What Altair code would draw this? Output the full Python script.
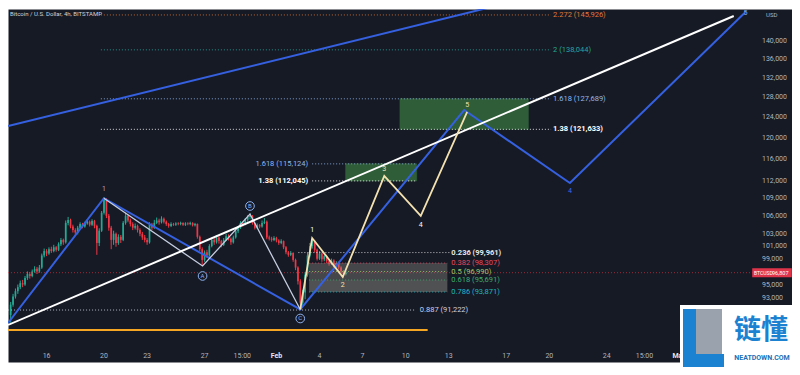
import altair as alt
import pandas as pd

# ---------------- data ----------------
# x is "day of year" (Jan 16 = 16, Feb 1 = 32, Mar 1 = 60); 4h candles, prices in thousand USD
first_day = 13.5
bar_hours = 4
first_open = 90.5
closes = [92.0, 93.2, 94.0, 94.6, 95.2, 95.0, 96.0, 96.6, 96.3, 97.0,
          97.4, 97.0, 97.6, 99.5, 100.2, 99.8, 100.5, 100.2, 100.8, 100.4,
          101.3, 102.0, 101.6, 104.8, 105.3, 104.2, 103.6, 103.2, 104.0, 104.6,
          104.2, 104.7, 105.0, 104.5, 105.1, 104.3, 101.5, 103.5, 106.5, 108.8,
          106.0, 104.0, 102.0, 103.0, 101.5, 102.5, 102.0, 104.8, 106.0, 105.2,
          104.6, 104.0, 104.3, 103.6, 103.0, 102.4, 102.0, 101.6, 104.5, 104.0,
          104.8, 105.2, 104.9, 105.5, 105.0, 104.6, 104.3, 104.6, 104.5, 104.7,
          104.6, 104.8, 104.5, 104.7, 104.6, 104.8, 104.4, 104.6, 102.5, 100.5,
          98.8, 100.0, 99.5, 101.0, 102.0, 101.6, 102.4, 101.8, 101.2, 102.0,
          102.6, 102.2, 101.6, 102.4, 103.4, 104.0, 104.8, 104.6, 105.3, 105.8,
          106.0, 104.8, 104.0, 104.4, 104.2, 104.8, 105.0, 102.4, 102.2, 102.0,
          102.3, 101.9, 101.5, 101.8, 100.8, 100.0, 99.6, 99.9, 98.8, 97.6,
          95.5, 92.3, 93.8, 96.5, 99.5, 101.0, 101.8, 100.4, 99.0, 99.8,
          98.9, 99.4, 98.6, 98.2, 98.7, 97.8, 98.3, 97.6, 97.0, 96.6,
          96.807]
highs = [92.4, 93.6, 94.4, 95.0, 95.6, 95.7, 96.3, 97.0, 96.9, 97.3,
         97.8, 97.7, 98.0, 99.8, 100.6, 100.5, 100.8, 100.9, 101.2, 101.0,
         101.6, 102.3, 102.2, 105.2, 105.8, 105.5, 104.5, 103.9, 104.3, 104.9,
         104.8, 105.0, 105.4, 105.2, 105.4, 105.3, 104.5, 103.9, 106.8, 109.2,
         109.0, 106.3, 104.3, 103.5, 103.2, 102.9, 102.8, 105.1, 106.5, 106.2,
         105.5, 104.9, 104.7, 104.5, 103.9, 103.3, 102.8, 102.3, 104.9, 104.8,
         105.3, 105.7, 105.5, 105.9, 105.7, 105.2, 104.8, 104.9, 104.8, 104.9,
         104.9, 105.0, 104.9, 104.9, 104.9, 105.0, 104.9, 104.8, 104.7, 102.7,
         100.8, 100.3, 100.4, 101.3, 102.4, 102.3, 102.8, 102.6, 102.0, 102.3,
         103.0, 102.9, 102.4, 102.7, 103.7, 104.3, 105.1, 105.0, 105.6, 106.1,
         106.4, 106.1, 105.0, 104.7, 104.6, 105.2, 105.6, 105.2, 102.7, 102.5,
         102.6, 102.5, 102.1, 102.1, 101.9, 101.0, 100.2, 100.2, 100.0, 99.0,
         97.8, 95.8, 94.2, 96.9, 99.9, 101.5, 102.3, 102.0, 100.6, 100.2,
         100.0, 99.7, 99.6, 98.9, 99.0, 98.9, 98.6, 98.5, 97.8, 97.2,
         97.1]
lows = [89.4, 91.7, 92.9, 93.6, 94.3, 94.6, 94.8, 95.7, 95.9, 96.1,
        96.8, 96.6, 96.8, 97.4, 99.2, 99.4, 99.6, 99.9, 100.0, 100.1,
        100.2, 101.0, 101.2, 101.4, 104.4, 103.9, 103.2, 102.8, 102.9, 103.8,
        103.9, 104.0, 104.5, 104.2, 104.3, 103.9, 99.6, 101.0, 103.3, 106.2,
        105.6, 103.5, 100.5, 101.2, 100.9, 101.2, 101.5, 101.8, 104.5, 104.9,
        104.2, 103.6, 103.7, 103.2, 102.6, 102.0, 101.6, 101.2, 101.4, 103.6,
        103.8, 104.6, 104.5, 104.7, 104.7, 104.3, 104.0, 104.1, 104.3, 104.3,
        104.4, 104.4, 104.3, 104.3, 104.4, 104.4, 104.2, 104.2, 102.2, 100.2,
        97.9, 98.5, 99.1, 99.3, 100.8, 101.2, 101.4, 101.4, 100.8, 101.0,
        101.8, 101.9, 101.2, 101.4, 102.2, 103.1, 103.8, 104.2, 104.4, 105.0,
        105.4, 104.5, 103.7, 103.8, 103.9, 104.0, 104.6, 102.1, 101.9, 101.7,
        101.8, 101.6, 101.2, 101.3, 100.5, 99.7, 99.3, 99.4, 98.5, 97.2,
        95.0, 91.3, 91.9, 92.8, 96.2, 99.2, 100.6, 100.0, 98.7, 98.8,
        98.5, 98.6, 98.3, 97.9, 98.0, 97.5, 97.6, 97.3, 96.7, 96.2,
        96.4]
last_price = 96807

# axes
x_domain = [13.663, 67.546]
y_domain = [83976, 147319]
x_tick_values = [16, 20, 23, 27, 29.625, 32, 35, 38, 41, 44, 48, 51, 55, 57.625, 60]
x_tick_labels = ["16", "20", "23", "27", "15:00", "Feb", "4", "7", "10", "13", "17", "20", "24", "15:00", "Mar"]
x_tick_bold = [False, False, False, False, False, True, False, False, False, False, False, False, False, False, True]
y_tick_values = [93000, 95000, 99000, 101000, 103000, 106000, 109000, 112000,
                 116000, 120000, 124000, 128000, 132000, 136000, 140000]

# drawings (day, price)
white_trend_day = [13.32, 63.84]
white_trend_price = [89080, 145690]
blue_upper_day = [13.32, 47.82]
blue_upper_price = [122280, 148500]
blue_path_day = [13.32, 19.99, 33.66, 45.07, 52.43, 64.66]
blue_path_price = [89360, 109000, 91300, 125430, 111670, 146620]
abc_day = [19.99, 26.86, 30.16, 33.66]
abc_price = [109000, 97850, 106290, 91300]
wave_day = [33.66, 34.49, 36.62, 39.51, 42.05, 45.28]
wave_price = [91300, 102300, 96140, 112930, 105960, 125040]
support_price = 88380
support_days = [13.32, 42.53]

# fibonacci levels
upper_fib_labels = ["2.272 (145,926)", "2 (138,044)", "1.618 (127,689)", "1.38 (121,633)"]
upper_fib_prices = [145926, 138044, 127689, 121633]
upper_fib_colors = ["#e0783a", "#26a69a", "#8fb8f0", "#ffffff"]
upper_fib_bold = [False, False, False, True]
upper_fib_days = [19.78, 51.12]
upper_box_days = [40.60, 49.54]

mid_fib_labels = ["1.618 (115,124)", "1.38 (112,045)"]
mid_fib_prices = [115124, 112045]
mid_fib_colors = ["#8fb8f0", "#ffffff"]
mid_fib_bold = [False, True]
mid_fib_days = [34.49, 41.77]
mid_box_days = [36.82, 41.77]

low_fib_labels = ["0.236 (99,961)", "0.382 (98,307)", "0.5 (96,990)", "0.618 (95,691)", "0.786 (93,871)", "0.887 (91,222)"]
low_fib_prices = [99961, 98307, 96990, 95691, 93871, 91222]
low_fib_colors = ["#e6e6e6", "#e8485f", "#a6c66b", "#3fae72", "#1fb6c1", "#cfcfe0"]
low_fib_bold = [True, False, False, False, False, False]
low_fib_start = [33.53, 34.28, 34.28, 34.28, 34.28, 13.32]
low_fib_end = [44.04, 43.90, 43.90, 43.90, 43.90, 41.70]
low_fib_label_day = [44.18, 44.18, 44.18, 44.18, 44.18, 41.98]
low_box_days = [34.28, 43.90]

# wave labels: text, day, price, dy, color
wave_labels = [("1", 19.99, 109000, -9, "#b39ddb"),
               ("1", 34.49, 102300, -8, "#ffffff"),
               ("2", 36.62, 96140, 8, "#f3e1b0"),
               ("3", 39.51, 112930, -7, "#f3e1b0"),
               ("4", 42.05, 105960, 9, "#ffffff"),
               ("5", 45.28, 125040, -7, "#f3e1b0"),
               ("4", 52.43, 111670, 8, "#3f6ae6"),
               ("5", 64.66, 146620, 1, "#8fb3f0")]
circle_labels = [("A", 26.86, 97850, 10), ("B", 30.16, 106290, -8), ("C", 33.66, 91300, 9)]

# ---------------- chart ----------------
W, H = 784, 353
BG = "#161a25"
FONT = "Roboto"
BLUE = "#3560e0"
AXIS_TXT = "#b2b5be"

XS = alt.Scale(domain=x_domain, nice=False, zero=False)
YS = alt.Scale(type="log", domain=y_domain, nice=False)


def X(f):
    return alt.X(f"{f}:Q", scale=XS, axis=None)


def Y(f):
    return alt.Y(f"{f}:Q", scale=YS, axis=None)


n = len(closes)
opens = [first_open] + closes[:-1]
rows = []
for i in range(n):
    o, c = opens[i], closes[i]
    rows.append(dict(day=first_day + i * bar_hours / 24.0,
                     open=o * 1000, close=c * 1000,
                     high=max(highs[i], o, c) * 1000, low=min(lows[i], o, c) * 1000,
                     color="#22ab94" if c >= o else "#f23645"))
candles = pd.DataFrame(rows)

layers = []

wicks = alt.Chart(candles).mark_rule(strokeWidth=1).encode(
    x=X("day"), y=Y("low"), y2="high", color=alt.Color("color:N", scale=None))
bodies = alt.Chart(candles).mark_bar(size=1.7).encode(
    x=X("day"), y=Y("open"), y2="close", color=alt.Color("color:N", scale=None))
layers += [wicks, bodies]

# axis tick labels (drawn inside the dark pane, TradingView style)
xt = pd.DataFrame({"v": x_tick_values, "t": x_tick_labels, "b": x_tick_bold})
layers.append(alt.Chart(xt[~xt.b]).mark_text(baseline="middle", fontSize=7, font=FONT, color=AXIS_TXT).encode(
    x=X("v"), y=alt.value(347), text="t:N"))
layers.append(alt.Chart(xt[xt.b]).mark_text(baseline="middle", fontSize=7, font=FONT, fontWeight="bold",
                                            color="#e6e7eb").encode(
    x=X("v"), y=alt.value(347), text="t:N"))
yt = pd.DataFrame({"v": y_tick_values, "t": [f"{v:,}" for v in y_tick_values]})
layers.append(alt.Chart(yt).mark_text(align="left", baseline="middle", fontSize=7, font=FONT,
                                      color=AXIS_TXT).encode(
    x=alt.value(754), y=Y("v"), text="t:N"))

# current price dotted line
lp = pd.DataFrame({"price": [last_price]})
layers.append(alt.Chart(lp).mark_rule(strokeDash=[1, 2], strokeWidth=1, color="#f23645", opacity=0.6).encode(
    y=Y("price"), x=alt.value(0), x2=alt.value(745)))

# boxes
boxes = pd.DataFrame({
    "d1": [upper_box_days[0], mid_box_days[0]],
    "d2": [upper_box_days[1], mid_box_days[1]],
    "p1": [upper_fib_prices[3], mid_fib_prices[1]],
    "p2": [upper_fib_prices[2], mid_fib_prices[0]],
})
layers.append(alt.Chart(boxes).mark_rect(color="#4caf50", opacity=0.45, stroke="#4caf50", strokeOpacity=0.6).encode(
    x=X("d1"), x2="d2", y=Y("p1"), y2="p2"))
grey_box = pd.DataFrame({"d1": [low_box_days[0], low_box_days[0]], "d2": [low_box_days[1], low_box_days[1]],
                         "p1": [low_fib_prices[4], low_fib_prices[4]], "p2": [low_fib_prices[1], low_fib_prices[3]],
                         "op": [0.32, 0.12]})
layers.append(alt.Chart(grey_box).mark_rect(color="#a8a596").encode(
    x=X("d1"), x2="d2", y=Y("p1"), y2="p2", opacity=alt.Opacity("op:Q", scale=None)))

# fib lines
fib_rows = []
for lab, p, col, b in zip(upper_fib_labels, upper_fib_prices, upper_fib_colors, upper_fib_bold):
    fib_rows.append(dict(label=lab, price=p, color=col, bold=b, d1=upper_fib_days[0], d2=upper_fib_days[1],
                         ld=upper_fib_days[1] + 0.14, side="left"))
for lab, p, col, b in zip(mid_fib_labels, mid_fib_prices, mid_fib_colors, mid_fib_bold):
    fib_rows.append(dict(label=lab, price=p, color=col, bold=b, d1=mid_fib_days[0], d2=mid_fib_days[1],
                         ld=mid_fib_days[0] - 0.28, side="right"))
for lab, p, col, b, s, e, ld in zip(low_fib_labels, low_fib_prices, low_fib_colors, low_fib_bold,
                                     low_fib_start, low_fib_end, low_fib_label_day):
    fib_rows.append(dict(label=lab, price=p, color=col, bold=b, d1=s, d2=e, ld=ld, side="left"))
fib = pd.DataFrame(fib_rows)

layers.append(alt.Chart(fib).mark_rule(strokeDash=[1, 2], strokeWidth=1, opacity=0.85, clip=True).encode(
    x=X("d1"), x2="d2", y=Y("price"), color=alt.Color("color:N", scale=None)))
for side in ["left", "right"]:
    for bold in [False, True]:
        sub = fib[(fib.side == side) & (fib.bold == bold)]
        if len(sub) == 0:
            continue
        layers.append(alt.Chart(sub).mark_text(align=side, baseline="middle", fontSize=7.5, font=FONT,
                                               fontWeight="bold" if bold else "normal").encode(
            x=X("ld"), y=Y("price"), text="label:N", color=alt.Color("color:N", scale=None)))

# support line
sup = pd.DataFrame({"d1": [support_days[0]], "d2": [support_days[1]], "price": [support_price]})
layers.append(alt.Chart(sup).mark_rule(strokeWidth=2, color="#f5a623", clip=True).encode(
    x=X("d1"), x2="d2", y=Y("price")))


def path(days, prices, color, width):
    df = pd.DataFrame({"day": days, "price": prices, "k": list(range(len(days)))})
    return alt.Chart(df).mark_line(color=color, strokeWidth=width, clip=True).encode(
        x=X("day"), y=Y("price"), order="k:Q")


layers.append(path(blue_upper_day, blue_upper_price, BLUE, 2))
layers.append(path(blue_path_day, blue_path_price, BLUE, 2))
layers.append(path(abc_day, abc_price, "#c5cde0", 1.3))
layers.append(path(white_trend_day, white_trend_price, "#ffffff", 2))
layers.append(path(wave_day, wave_price, "#f3e1b0", 1.8))

# wave labels
for t, d, p, dy, col in wave_labels:
    df = pd.DataFrame({"day": [d], "price": [p], "t": [t]})
    layers.append(alt.Chart(df).mark_text(dy=dy, fontSize=7, font=FONT, color=col).encode(
        x=X("day"), y=Y("price"), text="t:N"))
for t, d, p, dy in circle_labels:
    df = pd.DataFrame({"day": [d], "price": [p], "t": [t]})
    layers.append(alt.Chart(df).mark_point(yOffset=dy, shape="circle", filled=True, size=75, fill=BG,
                                           stroke="#8fb3f0", strokeWidth=1, opacity=1).encode(
        x=X("day"), y=Y("price")))
    layers.append(alt.Chart(df).mark_text(dy=dy, fontSize=6, font=FONT, color="#8fb3f0").encode(
        x=X("day"), y=Y("price"), text="t:N"))

# price tag on the axis
layers.append(alt.Chart(lp).mark_point(shape="M-2.2,-0.5L2.2,-0.5L2.2,0.5L-2.2,0.5Z", filled=True,
                                       size=324, color="#e0344b", opacity=1).encode(
    x=alt.value(764), y=Y("price")))
layers.append(alt.Chart(lp).mark_text(align="left", fontSize=5, font=FONT, color="#ffffff").encode(
    x=alt.value(746), y=Y("price"), text=alt.value("BTCUSD")))
layers.append(alt.Chart(lp).mark_text(align="left", fontSize=5.5, font=FONT, color="#ffffff").encode(
    x=alt.value(764), y=Y("price"), text=alt.value("96,807")))

# header texts inside the pane
layers.append(alt.Chart(lp).mark_text(align="left", baseline="middle", fontSize=6, font=FONT,
                                      color="#d1d4dc").encode(
    x=alt.value(2), y=alt.value(5), text=alt.value("Bitcoin / U.S. Dollar, 4h, BITSTAMP")))
layers.append(alt.Chart(lp).mark_text(align="left", baseline="middle", fontSize=6, font=FONT,
                                      color=AXIS_TXT).encode(
    x=alt.value(758), y=alt.value(6), text=alt.value("USD")))

# watermark block (bottom right)
layers.append(alt.Chart(lp).mark_rect(color="#ffffff").encode(
    x=alt.value(672), x2=alt.value(784), y=alt.value(296), y2=alt.value(358)))
layers.append(alt.Chart(lp).mark_rect(color="#9aa3ad").encode(
    x=alt.value(686), x2=alt.value(714), y=alt.value(300), y2=alt.value(345)))
layers.append(alt.Chart(lp).mark_rect(color="#1b82d1").encode(
    x=alt.value(675), x2=alt.value(688), y=alt.value(300), y2=alt.value(358)))
layers.append(alt.Chart(lp).mark_rect(color="#1b82d1").encode(
    x=alt.value(675), x2=alt.value(716), y=alt.value(345), y2=alt.value(358)))
layers.append(alt.Chart(lp).mark_text(align="center", baseline="middle", fontSize=27, fontWeight="bold",
                                      font="Noto Sans CJK SC", color="#1b82d1").encode(
    x=alt.value(753), y=alt.value(322), text=alt.value("链懂")))
layers.append(alt.Chart(lp).mark_text(align="center", baseline="middle", fontSize=7, fontWeight="bold",
                                      font=FONT, color="#2070b8").encode(
    x=alt.value(754), y=alt.value(349), text=alt.value("NEATDOWN.COM")))

chart = alt.layer(*layers).properties(
    width=W, height=H,
    padding={"left": 0, "top": 1, "right": 0, "bottom": 5},
    autosize=alt.AutoSizeParams(type="none"),
).configure(background="#ffffff").configure_view(fill=BG, stroke="transparent")

chart.save("out.html", embed_options={"renderer": "svg", "actions": False})
